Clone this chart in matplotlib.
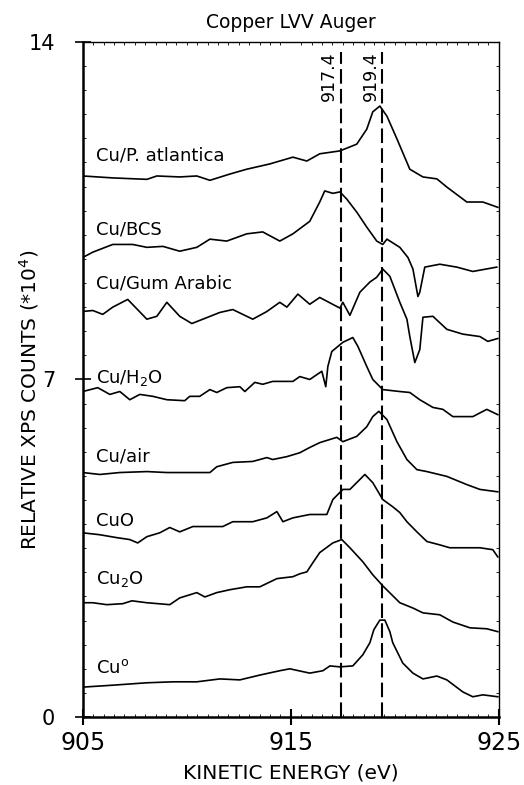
import matplotlib
matplotlib.use("Agg")
import matplotlib.pyplot as plt
from matplotlib.ticker import MultipleLocator

# spectra: kinetic energy (eV) and relative counts (*10^4)
patl_x = [905.0, 906.44, 908.08, 908.56, 909.66, 910.48, 911.11, 912.07, 912.88, 913.99,
          915.10, 915.77, 916.39, 917.36, 918.17, 918.65, 918.94, 919.28, 919.62, 920.10,
          920.72, 921.35, 922.02, 922.50, 923.46, 924.23, 924.95]
patl_y = [11.22, 11.18, 11.15, 11.22, 11.20, 11.22, 11.13, 11.26, 11.36, 11.47,
          11.61, 11.53, 11.68, 11.74, 11.88, 12.19, 12.55, 12.67, 12.46, 11.99,
          11.36, 11.20, 11.16, 10.99, 10.68, 10.68, 10.57]

bcs_x = [905.0, 905.48, 906.44, 907.40, 908.08, 908.85, 909.66, 910.48, 911.11, 911.92,
         912.88, 913.65, 914.47, 915.10, 915.91, 916.39, 916.63, 917.02, 917.36, 917.69,
         918.17, 918.65, 919.13, 919.42, 919.62, 920.24, 920.63, 920.87, 921.11, 921.20,
         921.44, 922.16, 922.98, 923.75, 924.90]
bcs_y = [9.53, 9.64, 9.80, 9.80, 9.74, 9.76, 9.66, 9.74, 9.91, 9.87,
         10.02, 10.06, 9.87, 10.02, 10.28, 10.68, 10.91, 10.86, 10.89, 10.74,
         10.47, 10.16, 9.87, 9.80, 9.91, 9.74, 9.53, 9.29, 8.72, 8.81,
         9.33, 9.39, 9.33, 9.24, 9.33]

gum_x = [905.0, 905.48, 905.96, 906.44, 907.16, 908.08, 908.56, 909.04, 909.66, 910.24,
         910.77, 911.59, 912.21, 913.17, 913.85, 914.47, 914.81, 915.34, 915.91, 916.39,
         917.36, 917.50, 917.84, 918.32, 918.80, 919.13, 919.42, 919.76, 920.24, 920.58,
         920.72, 920.96, 921.20, 921.35, 921.83, 922.50, 923.27, 924.09, 924.47, 924.95]
gum_y = [8.41, 8.43, 8.35, 8.50, 8.66, 8.25, 8.31, 8.60, 8.31, 8.16,
         8.25, 8.39, 8.45, 8.25, 8.41, 8.60, 8.50, 8.77, 8.56, 8.70,
         8.48, 8.60, 8.33, 8.81, 9.02, 9.12, 9.29, 9.14, 8.60, 8.25,
         7.89, 7.35, 7.62, 8.29, 8.31, 8.04, 7.94, 7.89, 7.79, 7.85]

h2o_x = [905.0, 905.72, 906.30, 906.78, 907.26, 907.74, 908.37, 909.04, 909.90, 910.14,
         910.62, 911.11, 911.44, 911.92, 912.55, 912.79, 913.27, 913.65, 914.13, 915.10,
         915.43, 915.91, 916.49, 916.68, 916.78, 916.97, 917.50, 917.98, 918.22, 918.65,
         918.94, 919.42, 920.24, 920.72, 921.20, 921.83, 922.31, 922.79, 923.75, 924.42, 924.95]
h2o_y = [6.75, 6.83, 6.69, 6.75, 6.58, 6.69, 6.65, 6.58, 6.56, 6.65,
         6.65, 6.79, 6.73, 6.83, 6.85, 6.75, 6.94, 6.90, 6.96, 6.96,
         7.06, 7.00, 7.17, 6.85, 7.27, 7.58, 7.77, 7.87, 7.69, 7.27,
         7.00, 6.79, 6.75, 6.73, 6.58, 6.42, 6.38, 6.23, 6.23, 6.38, 6.27]

air_x = [905.0, 905.82, 906.78, 908.08, 909.04, 911.11, 911.44, 912.21, 913.17, 913.85,
         914.13, 914.81, 915.43, 915.91, 916.39, 917.21, 917.50, 918.17, 918.65, 918.94,
         919.23, 919.62, 920.10, 920.58, 921.06, 921.54, 922.50, 923.46, 924.09, 924.95]
air_y = [5.07, 5.03, 5.07, 5.09, 5.07, 5.07, 5.19, 5.28, 5.30, 5.38,
         5.34, 5.40, 5.48, 5.59, 5.69, 5.80, 5.71, 5.82, 6.02, 6.23,
         6.34, 6.17, 5.71, 5.34, 5.13, 5.09, 4.99, 4.82, 4.72, 4.67]

cuo_x = [905.0, 905.82, 906.63, 907.26, 907.64, 908.08, 908.70, 909.18, 909.66, 910.29,
         910.96, 911.73, 912.21, 913.17, 913.85, 914.33, 914.62, 915.10, 915.91, 916.73,
         917.02, 917.50, 917.84, 918.56, 918.94, 919.42, 919.90, 920.24, 920.58, 921.06,
         921.54, 922.16, 922.64, 923.46, 924.09, 924.71, 924.95]
cuo_y = [3.82, 3.78, 3.72, 3.68, 3.61, 3.74, 3.82, 3.93, 3.84, 3.95,
         3.95, 3.95, 4.05, 4.05, 4.13, 4.26, 4.05, 4.13, 4.20, 4.20,
         4.51, 4.72, 4.72, 5.03, 4.86, 4.51, 4.36, 4.24, 4.05, 3.84,
         3.64, 3.57, 3.51, 3.51, 3.51, 3.47, 3.32]

cu2o_x = [905.0, 905.48, 906.15, 906.92, 907.36, 908.08, 909.18, 909.66, 910.48, 910.87,
          911.44, 912.07, 912.88, 913.51, 914.33, 915.10, 915.43, 915.77, 916.06, 916.39,
          917.02, 917.45, 917.84, 918.46, 918.94, 919.42, 920.24, 920.87, 921.35, 922.16,
          922.79, 923.61, 924.42, 924.95]
cu2o_y = [2.37, 2.37, 2.33, 2.35, 2.41, 2.37, 2.33, 2.47, 2.58, 2.49,
          2.58, 2.64, 2.70, 2.70, 2.87, 2.91, 2.97, 3.01, 3.20, 3.41,
          3.61, 3.68, 3.51, 3.22, 2.95, 2.72, 2.37, 2.26, 2.16, 2.12,
          1.97, 1.85, 1.83, 1.77]

cu0_x = [905.0, 906.44, 908.08, 909.33, 910.48, 911.59, 912.55, 913.51, 914.47, 914.95,
         915.91, 916.54, 916.88, 917.36, 917.98, 918.46, 918.80, 918.99, 919.28, 919.52,
         919.76, 919.90, 920.38, 920.87, 921.35, 922.02, 922.50, 923.27, 923.75, 924.23, 924.95]
cu0_y = [0.62, 0.66, 0.71, 0.73, 0.73, 0.79, 0.77, 0.87, 0.96, 1.00,
         0.91, 0.96, 1.06, 1.04, 1.06, 1.29, 1.54, 1.81, 2.01, 2.01,
         1.77, 1.54, 1.12, 0.91, 0.79, 0.85, 0.77, 0.52, 0.42, 0.46, 0.42]

spectra = [(patl_x, patl_y), (bcs_x, bcs_y), (gum_x, gum_y), (h2o_x, h2o_y),
           (air_x, air_y), (cuo_x, cuo_y), (cu2o_x, cu2o_y), (cu0_x, cu0_y)]

labels = ["Cu/P. atlantica", "Cu/BCS", "Cu/Gum Arabic", "Cu/H$_2$O",
          "Cu/air", "CuO", "Cu$_2$O", "Cu$^{\\rm o}$"]
label_y = [11.65, 10.12, 8.99, 7.04, 5.40, 4.07, 2.87, 1.02]

ref_lines = [917.4, 919.4]

fig = plt.figure(figsize=(5.24, 7.85), dpi=100)
ax = fig.add_axes([0.158, 0.0866, 0.794, 0.86])

for (xs, ys) in spectra:
    ax.plot(xs, ys, color="black", lw=1.2)

for lab, ly in zip(labels, label_y):
    ax.text(905.63, ly, lab, fontsize=13, va="center", ha="left")

for e in ref_lines:
    ax.plot([e, e], [0, 13.8], color="black", lw=1.5, dashes=(7, 2.5))
    ax.text(e - 0.12, 13.8, "%.1f" % e, rotation=90, fontsize=12.5,
            ha="right", va="top")

ax.set_xlim(905, 925)
ax.set_ylim(0, 14)
ax.set_xticks([905, 915, 925])
ax.set_yticks([0, 7, 14])
ax.xaxis.set_minor_locator(MultipleLocator(0.5))
ax.yaxis.set_minor_locator(MultipleLocator(0.5))
ax.tick_params(axis="x", which="major", direction="inout", length=12, width=1.5,
               labelsize=17, pad=4)
ax.tick_params(axis="y", which="major", direction="inout", length=12, width=1.2,
               labelsize=15, pad=14)
ax.tick_params(which="minor", direction="in", length=2, width=0.6,
               top=True, right=True)

for side in ["left", "bottom"]:
    ax.spines[side].set_linewidth(1.8)
for side in ["top", "right"]:
    ax.spines[side].set_linewidth(1.0)

ax.set_xlabel("KINETIC ENERGY (eV)", fontsize=14.5, labelpad=6)
ax.set_ylabel("RELATIVE XPS COUNTS (*10$^4$)", fontsize=14.5)
ax.yaxis.set_label_coords(-0.1, 0.47)
ax.set_title("Copper LVV Auger", fontsize=13.5, pad=10)

fig.savefig("out.png", dpi=100)
